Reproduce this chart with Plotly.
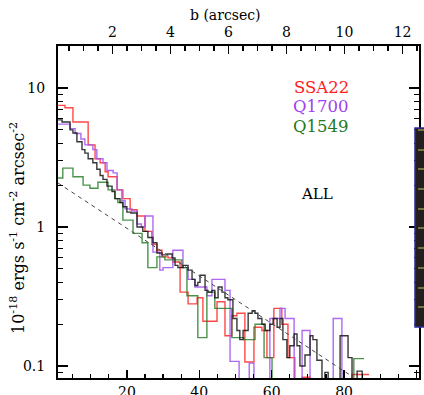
import plotly.graph_objects as go

# ---------------- data (bin left edges, surface brightness) ----------------
all_edges = [1.0, 2.1, 4.3, 5.1, 6.2, 7.6, 8.4, 9.3, 10.6, 11.7, 12.6, 13.4, 14.5, 15.9, 16.7,
             18.1, 18.9, 20.0, 21.1, 22.8, 24.4, 25.8, 27.2, 28.3, 29.7, 31.1, 32.5, 33.3, 34.1,
             35.5, 36.9, 38.0, 38.8, 39.6, 40.2, 41.6, 42.4, 43.5, 44.3, 45.2, 46.3, 47.1, 47.9,
             49.3, 50.4, 51.2, 52.1, 53.5, 54.6, 55.4, 56.2, 57.3, 58.2, 59.5, 60.4, 61.5, 62.3,
             63.1, 64.2, 65.0, 66.2, 67.0, 67.8, 69.2, 70.6, 71.4, 72.5, 73.9, 74.7, 75.6, 78.9,
             81.1, 82.2, 83.6, 85.0, 86.0]
all_vals = [5.9, 5.7, 5.0, 4.75, 4.1, 3.6, 3.4, 3.1, 2.9, 2.6, 2.35, 2.2, 1.97, 1.8, 1.6,
            1.5, 1.4, 1.28, 1.26, 1.0, 0.93, 0.84, 0.77, 0.65, 0.63, 0.64, 0.6, 0.53, 0.51,
            0.53, 0.49, 0.42, 0.38, 0.40, 0.45, 0.35, 0.34, 0.35, 0.31, 0.37, 0.34, 0.31, 0.30,
            0.22, 0.18, 0.155, 0.18, 0.24, 0.25, 0.24, 0.22, 0.20, 0.18, 0.20, 0.22, 0.19, 0.22,
            0.155, 0.115, 0.14, 0.17, 0.14, 0.10, 0.12, 0.165, 0.155, 0.11, 0.07, 0.09, 0.07, 0.165,
            0.115, 0.07, 0.092, 0.07]

q1700_edges = [1.0, 4.3, 5.7, 7.3, 8.4, 10.6, 11.7, 13.4, 14.5, 16.2, 17.3, 18.6, 19.5, 21.4,
               22.8, 24.0, 25.0, 27.2, 29.1, 30.0, 32.7, 35.5, 36.9, 38.8, 40.2, 42.1, 43.5,
               47.1, 48.5, 51.0, 53.8, 55.1, 59.5, 62.3, 63.7, 66.2, 68.4, 70.6, 72.5, 74.7,
               77.0, 79.4, 81.0]
q1700_vals = [5.5, 5.1, 4.7, 4.3, 3.9, 3.6, 3.1, 2.9, 2.55, 2.45, 1.85, 1.55, 1.35, 1.3,
              1.05, 1.0, 1.2, 0.66, 0.49, 0.51, 0.68, 0.51, 0.42, 0.37, 0.37, 0.32, 0.42,
              0.35, 0.108, 0.06, 0.105, 0.06, 0.22, 0.26, 0.22, 0.06, 0.18, 0.06, 0.08, 0.06,
              0.22, 0.06]

ssa22_edges = [1.0, 2.9, 5.1, 9.3, 11.2, 12.6, 14.0, 14.8, 17.3, 18.9, 20.9, 22.8, 25.0, 26.9,
               28.3, 29.7, 31.4, 32.7, 34.7, 36.9, 39.4, 41.0, 44.9, 47.1, 49.0, 50.4, 52.6,
               55.1, 57.3, 58.7, 60.6, 62.8, 64.5, 66.4, 68.4, 70.6, 82.2, 86.9]
ssa22_vals = [7.5, 7.2, 5.7, 3.9, 3.1, 2.9, 2.5, 2.3, 1.85, 1.6, 1.33, 1.2, 0.93, 0.75,
              0.68, 0.61, 0.6, 0.56, 0.34, 0.28, 0.31, 0.21, 0.29, 0.165, 0.23, 0.24, 0.107,
              0.19, 0.18, 0.115, 0.26, 0.2, 0.115, 0.06, 0.083, 0.06, 0.087]

q1549_edges = [1.0, 2.3, 5.1, 7.9, 9.8, 12.0, 14.8, 16.7, 17.5, 18.9, 21.7, 24.2, 25.8, 28.3,
               30.5, 35.2, 36.6, 39.6, 42.1, 44.3, 49.0, 52.3, 55.4, 57.9, 60.1, 62.0, 82.7,
               85.5]
q1549_vals = [2.25, 2.65, 2.3, 2.0, 1.9, 2.1, 1.85, 1.6, 1.5, 1.12, 0.9, 0.77, 0.51, 0.61,
              0.58, 0.51, 0.32, 0.16, 0.34, 0.26, 0.16, 0.155, 0.2, 0.115, 0.08, 0.06, 0.113]

fit_x = [1.0, 82.0]
fit_y = [2.07, 0.085]

x_ticks = [20, 40, 60, 80, 100]
b_ticks = [2, 4, 6, 8, 10, 12]
y_ticks = [0.1, 1, 10]
y_ticktext = ["0.1", "1", "10"]
y_minor = [0.09, 0.2, 0.3, 0.4, 0.5, 0.6, 0.7, 0.8, 0.9, 2, 3, 4, 5, 6, 7, 8, 9, 20]

# ---------------- layout geometry (window pixels) ----------------
W, H = 424, 395
L, R, T, B = 58, 419, 46, 378          # plot frame
XR = [0.97, 100.7]
ARCSEC_PER_UNIT = 0.1248
FONT = "DejaVu Serif"


def px(x):
    return (x - L) / (R - L)


def py(y):
    return (B - y) / (B - T)


def step(edges, vals):
    return list(edges), list(vals) + [vals[-1]]


fig = go.Figure()

series = [
    (ssa22_edges, ssa22_vals, "rgba(255,40,40,0.85)"),
    (q1700_edges, q1700_vals, "rgba(160,80,240,0.85)"),
    (q1549_edges, q1549_vals, "rgba(30,120,30,0.8)"),
    (all_edges, all_vals, "rgba(20,20,20,0.85)"),
]
for e, v, c in series:
    xs, ys = step(e, v)
    fig.add_trace(go.Scatter(x=xs, y=ys, mode="lines", line=dict(color=c, width=1.4, shape="hv"),
                             hoverinfo="skip", showlegend=False))

fig.add_trace(go.Scatter(x=fit_x, y=fit_y, mode="lines",
                         line=dict(color="#444", width=1, dash="4px,4px"),
                         hoverinfo="skip", showlegend=False))

# invisible trace on top axis
fig.add_trace(go.Scatter(x=[5], y=[1], xaxis="x2", mode="lines", line=dict(width=0),
                         hoverinfo="skip", showlegend=False))

tickfont = dict(family=FONT, size=14, color="black")

fig.update_layout(
    width=W, height=H,
    margin=dict(l=L, r=W - R, t=T, b=H - B, autoexpand=False, pad=0),
    paper_bgcolor="white", plot_bgcolor="white",
    hovermode=False,
    xaxis=dict(range=XR, tickvals=x_ticks, ticks="inside", ticklen=8, tickwidth=1.5,
               tickcolor="black", showline=True, linecolor="black", linewidth=2,
               showgrid=False, zeroline=False, tickfont=tickfont, automargin=False,
               minor=dict(dtick=5, tick0=0, ticks="inside", ticklen=4, tickwidth=1.2,
                          tickcolor="black", showgrid=False)),
    xaxis2=dict(range=[XR[0] * ARCSEC_PER_UNIT, XR[1] * ARCSEC_PER_UNIT], overlaying="x",
                side="top", tickvals=b_ticks, ticks="inside", ticklen=8, tickwidth=1.5,
                tickcolor="black", showline=True, linecolor="black", linewidth=2,
                showgrid=False, zeroline=False, tickfont=tickfont, automargin=False,
                ticklabelstandoff=1,
                minor=dict(dtick=0.5, tick0=0, ticks="inside", ticklen=5, tickwidth=1.2,
                           tickcolor="black", showgrid=False)),
    yaxis=dict(type="log", range=[-1.086, 1.302], tickvals=y_ticks, ticktext=y_ticktext,
               ticks="inside", ticklen=10, tickwidth=1.5, tickcolor="black",
               showline=True, linecolor="black", linewidth=2, mirror="ticks",
               showgrid=False, zeroline=False, tickfont=tickfont, automargin=False,
               ticklabelstandoff=8,
               minor=dict(tickvals=y_minor, ticks="inside", ticklen=5, tickwidth=1.2,
                          tickcolor="black", showgrid=False)),
)

ann = [
    dict(text="b (arcsec)", x=px(225), y=py(15), size=14, color="black"),
    dict(text="SSA22", x=px(321), y=py(87), size=16.5, color="#ff2020"),
    dict(text="Q1700", x=px(321), y=py(106), size=16.5, color="#a040f0"),
    dict(text="Q1549", x=px(321), y=py(126), size=16.5, color="#1f7a1f"),
    dict(text="ALL", x=px(317), y=py(194), size=15, color="black"),
]
for a in ann:
    fig.add_annotation(text=a["text"], x=a["x"], y=a["y"], xref="paper", yref="paper",
                       showarrow=False, xanchor="center", yanchor="middle",
                       font=dict(family=FONT, size=a["size"], color=a["color"]))

fig.add_annotation(text="10<sup>-18</sup> ergs s<sup>-1</sup> cm<sup>-2</sup> arcsec<sup>-2</sup>",
                   x=px(18), y=py(228), xref="paper", yref="paper", showarrow=False,
                   textangle=-90, xanchor="center", yanchor="middle",
                   font=dict(family=FONT, size=16, color="black"))

# dark strip at the right edge of the image
fig.add_shape(type="rect", xref="paper", yref="paper", x0=px(415), x1=px(426), y0=py(327),
              y1=py(128), fillcolor="#231f20", line=dict(color="#2a2a9a", width=1.5), layer="above")
for yy in [130, 150, 169, 189, 209, 228, 248, 268, 288, 307]:
    fig.add_shape(type="line", xref="paper", yref="paper", x0=px(418), x1=px(424),
                  y0=py(yy), y1=py(yy), line=dict(color="#b0a850", width=1.2), layer="above")

fig.write_html("out.html", config={"displayModeBar": False, "staticPlot": True},
               post_script="document.body.style.margin='0';document.body.style.overflow='hidden';")
